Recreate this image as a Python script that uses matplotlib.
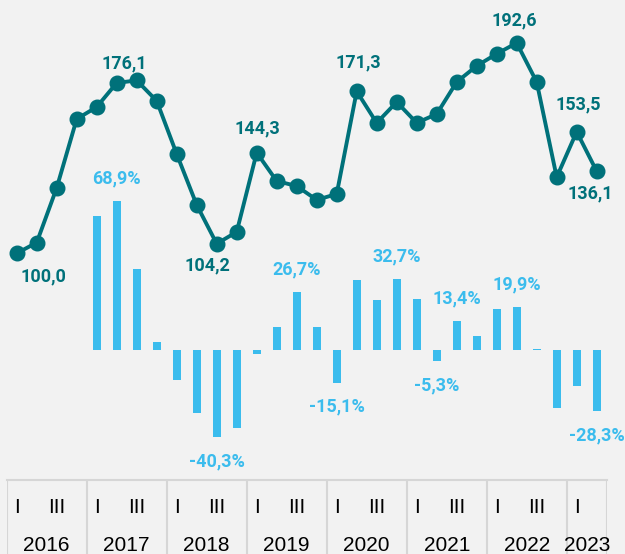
import numpy as np
import matplotlib.pyplot as plt

# Indice trimestral (2016 T1 = 100) e variacao homologa (%)
years = ['2016', '2017', '2018', '2019', '2020', '2021', '2022', '2023']
quarter_ticks = ['I', 'III']
index_values = [100.0, 104.7, 128.8, 159.1, 164.4, 175.0, 176.1, 167.1,
                143.7, 121.3, 104.2, 109.4, 144.3, 131.8, 129.6, 123.5,
                126.1, 171.3, 157.4, 166.6, 157.4, 161.3, 175.4, 182.5,
                187.8, 192.6, 175.4, 133.5, 153.5, 136.1]
yoy_change = [62.0, 68.9, 37.4, 3.9, -13.9, -29.3, -40.3, -36.0,
              -2.0, 10.8, 26.7, 10.8, -15.1, 32.3, 23.1, 32.7,
              23.5, -5.3, 13.4, 6.6, 19.0, 19.9, 0.5, -27.0,
              -16.5, -28.3]
line_labelled = [0, 6, 10, 12, 17, 25, 28, 29]
bar_labelled = [5, 10, 14, 16, 19, 21, 22, 25, 29]

TEAL = '#00717a'
BLUE = '#3bbced'
BG = '#f2f2f2'
GRID = '#d6d6d6'

n = len(index_values)
x = np.arange(n)
x_bar = x[n - len(yoy_change):]

def fmt(v):
    return f'{v:.1f}'.replace('.', ',')

fig = plt.figure(figsize=(6.25, 5.54), dpi=100, facecolor=BG)
W, H = 625, 554

# area do grafico
ax_bar = fig.add_axes([6.7 / W, 74 / H, 600 / W, 480 / H])
ax_line = ax_bar.twinx()
for a in (ax_bar, ax_line):
    a.set_xlim(-0.5, n - 0.5)
    a.axis('off')
ax_bar.set_facecolor(BG)
ax_bar.set_ylim(-60.2, 162.0)
ax_line.set_ylim(0.2, 211.5)

ax_bar.bar(x_bar, yoy_change, width=0.4, color=BLUE)
ax_line.plot(x, index_values, color=TEAL, lw=2.8, marker='o', ms=10.5,
             solid_joinstyle='round')

# rotulos da linha (deslocamento em pixeis)
line_offsets = {0: (27, -23), 6: (-12, 17), 10: (-9, -22), 12: (1, 24),
                17: (2, 29), 25: (-2, 22), 28: (2, 27), 29: (-6, -22)}
for i in line_labelled:
    ax_line.annotate(fmt(index_values[i]), (x[i], index_values[i]),
                     xytext=line_offsets[i], textcoords='offset pixels',
                     ha='center', va='center', fontsize=13,
                     fontweight='bold', color=TEAL, family='Roboto')

# rotulos das barras
for i in bar_labelled:
    v = yoy_change[i - (n - len(yoy_change))]
    dy = 23 if v > 0 else -24
    ax_bar.annotate(fmt(v) + '%', (x[i], v), xytext=(0, dy),
                    textcoords='offset pixels', ha='center', va='center',
                    fontsize=13, fontweight='bold', color=BLUE,
                    family='Roboto')

# tabela do eixo x
ax_t = fig.add_axes([6.7 / W, 0, 600 / W, 74 / H], sharex=ax_bar)
ax_t.set_facecolor(BG)
ax_t.set_ylim(0, 1)
ax_t.set_xlim(-0.5, n - 0.5)
ax_t.set_xticks([])
ax_t.set_yticks([])
for s in ['left', 'right', 'bottom']:
    ax_t.spines[s].set_visible(False)
ax_t.spines['top'].set_color(GRID)
ax_t.spines['top'].set_linewidth(1.5)

bounds = list(np.arange(-0.5, n, 4)) + [n - 0.5]
for b in bounds:
    ax_t.axvline(b, color=GRID, lw=1.5)

for k, yr in enumerate(years):
    start = 4 * k
    end = min(start + 4, n)
    for q, lab in zip([0, 2], quarter_ticks):
        if start + q < n:
            ax_t.text(start + q, 0.558, lab, ha='center', va='baseline',
                      fontsize=15, family='Liberation Sans')
    ax_t.text((start + end - 1) / 2, 0.045, yr, ha='center', va='baseline',
              fontsize=15, family='Liberation Sans')

fig.savefig('out.png', dpi=100, facecolor=BG)
